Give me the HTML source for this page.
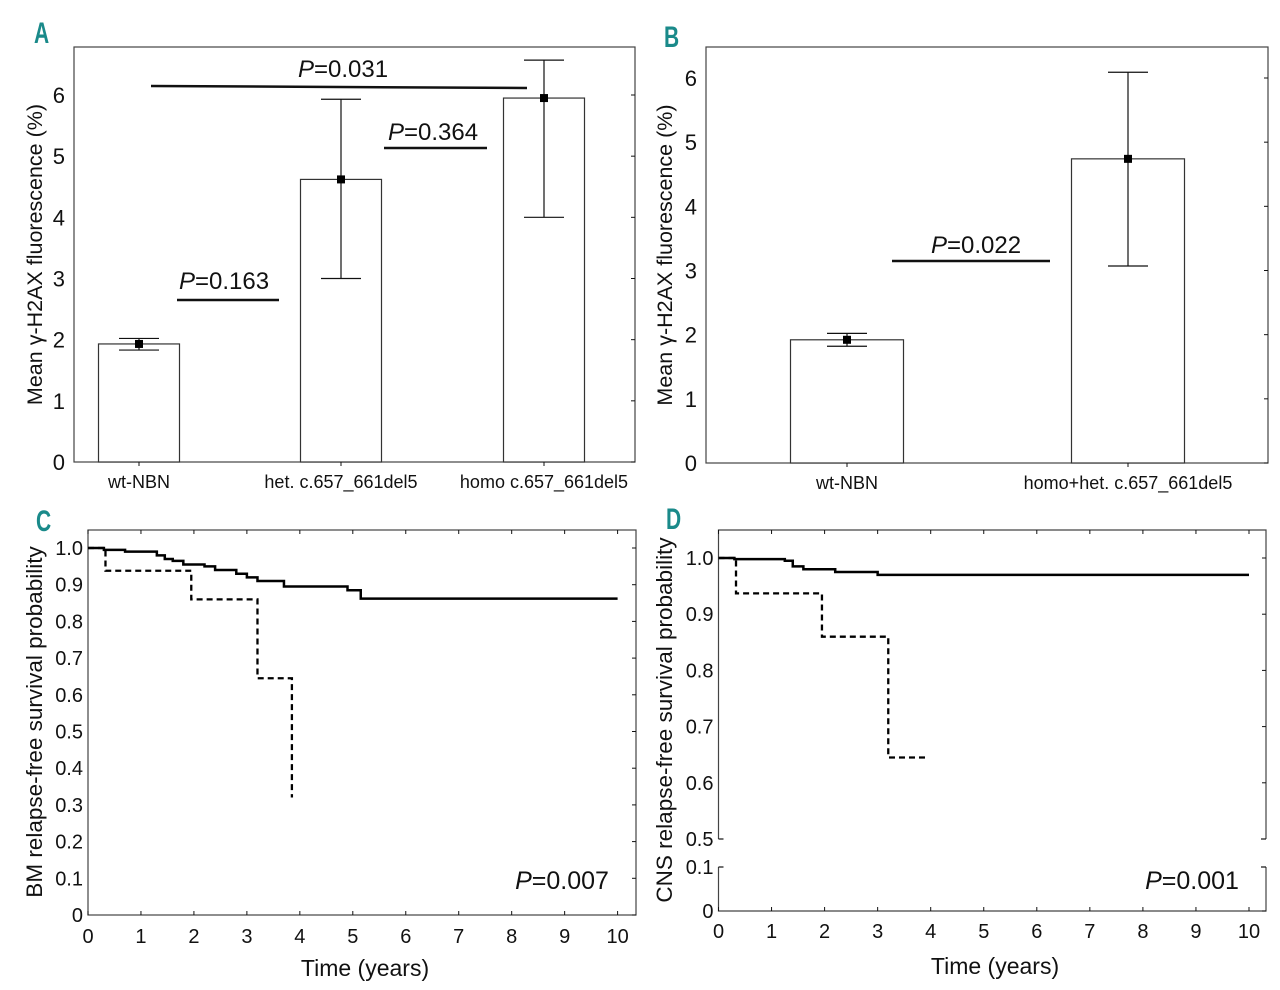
<!DOCTYPE html>
<html><head><meta charset="utf-8"><style>
html,body{margin:0;padding:0;background:#fff}
svg{display:block}
text{font-family:"Liberation Sans",sans-serif;fill:#111}
.lt{font-family:"Liberation Sans",sans-serif;font-weight:bold;fill:#1a8a8a;font-size:30px}
</style></head><body>
<svg id="fig" width="1280" height="990" viewBox="0 0 1280 990" xmlns="http://www.w3.org/2000/svg">
<text class="lt" x="34" y="43" transform="translate(34,43) scale(0.7,1) translate(-34,-43)">A</text>
<text class="lt" x="664" y="47" transform="translate(664,47) scale(0.7,1) translate(-664,-47)">B</text>
<text class="lt" x="36" y="531" transform="translate(36,531) scale(0.7,1) translate(-36,-531)">C</text>
<text class="lt" x="666" y="529" transform="translate(666,529) scale(0.7,1) translate(-666,-529)">D</text>
</svg>
<script>
// Panel A data
const catsA = ["wt-NBN", "het. c.657_661del5", "homo c.657_661del5"];
const meansA = [1.93, 4.62, 5.95];
const lowA = [1.83, 3.0, 4.0];
const highA = [2.02, 5.93, 6.57];
// Panel B data
const catsB = ["wt-NBN", "homo+het. c.657_661del5"];
const meansB = [1.92, 4.74];
const lowB = [1.82, 3.07];
const highB = [2.02, 6.09];
const ticksBar = [0, 1, 2, 3, 4, 5, 6];
// Panel C data (Kaplan-Meier step points: time, survival)
const timesCsolid = [0, 0.3, 0.7, 1.3, 1.45, 1.6, 1.8, 2.2, 2.4, 2.8, 3.0, 3.2, 3.7, 4.9, 5.15, 10];
const survCsolid = [1.0, 0.995, 0.99, 0.98, 0.97, 0.965, 0.955, 0.95, 0.94, 0.93, 0.92, 0.91, 0.895, 0.885, 0.862, 0.862];
const timesCdash = [0, 0.33, 1.95, 3.2, 3.85];
const survCdash = [1.0, 0.938, 0.86, 0.645, 0.32];
// Panel D data
const timesDsolid = [0, 0.3, 1.25, 1.4, 1.6, 2.2, 3.0, 10];
const survDsolid = [1.0, 0.998, 0.995, 0.985, 0.98, 0.975, 0.97, 0.97];
const timesDdash = [0, 0.33, 1.95, 3.2, 3.9];
const survDdash = [1.0, 0.937, 0.86, 0.645, 0.645];
const ticksX = [0,1,2,3,4,5,6,7,8,9,10];
const ticksC = [0,0.1,0.2,0.3,0.4,0.5,0.6,0.7,0.8,0.9,1.0];
const ticksDup = [0.5,0.6,0.7,0.8,0.9,1.0];
const ticksDlow = [0,0.1];

const NS = "http://www.w3.org/2000/svg";
const svg = document.getElementById('fig');
function el(tag, attrs, parent) {
  const e = document.createElementNS(NS, tag);
  for (const k in attrs) e.setAttribute(k, attrs[k]);
  (parent || svg).appendChild(e);
  return e;
}
function txt(x, y, s, size, anchor, name, extra) {
  const t = el('text', Object.assign({x: x, y: y, 'font-size': size, 'text-anchor': anchor || 'middle'}, extra || {}));
  t.textContent = s;
  
  
  return t;
}
function ptext(x, y, val, size, name) {
  const t = el('text', {x: x, y: y, 'font-size': size, 'text-anchor': 'middle'});
  const a = el('tspan', {'font-style': 'italic'}, t); a.textContent = 'P';
  const b = el('tspan', {}, t); b.textContent = '=' + val;
  
  
}
function line(x1, y1, x2, y2, w, name, extra) {
  const l = el('line', Object.assign({x1: x1, y1: y1, x2: x2, y2: y2, stroke: '#111', 'stroke-width': w}, extra || {}));
  
  
  return l;
}

function barPanel(o) {
  const {L, R, T, B, y6, cats, means, lo, hi, centers, bw, ylx, id} = o;
  const ys = v => B - v * (B - y6) / 6;
  const box = el('rect', {x: L, y: T, width: R - L, height: B - T, fill: 'none', stroke: '#444', 'stroke-width': 1.2});
  
  
  ticksBar.forEach(v => {
    line(R - 4, ys(v), R, ys(v), 1, id + '-right-tick');
    txt(L - 9, ys(v) + 8, String(v), 22, 'end', id + '-y-tick-label');
  });
  cats.forEach((c, i) => {
    const cx = centers[i];
    const r = el('rect', {x: cx - bw / 2, y: ys(means[i]), width: bw, height: B - ys(means[i]), fill: '#fff', stroke: '#333', 'stroke-width': 1.2});
    
    
    line(cx, ys(lo[i]), cx, ys(hi[i]), 1.2, id + '-error-bar');
    line(cx - 20, ys(lo[i]), cx + 20, ys(lo[i]), 1.2, id + '-error-cap-low');
    line(cx - 20, ys(hi[i]), cx + 20, ys(hi[i]), 1.2, id + '-error-cap-high');
    const m = el('rect', {x: cx - 4, y: ys(means[i]) - 4, width: 8, height: 8, fill: '#000'});
    
    
    line(cx, B, cx, B + 4, 1, id + '-x-tick');
    txt(cx, B + 26, c, 18, 'middle', id + '-category-label');
  });
  txt(ylx, (T + B) / 2, 'Mean γ-H2AX fluorescence (%)', 21.5, 'middle', id + '-y-axis-title', {transform: `rotate(-90 ${ylx} ${(T + B) / 2})`});
  return ys;
}

barPanel({L: 74, R: 635, T: 47, B: 462, y6: 95, cats: catsA, means: meansA, lo: lowA, hi: highA, centers: [139, 341, 544], bw: 81, ylx: 42, id: 'panel-a'});
line(177, 300, 279, 300, 2.5, 'p-line-wt-het');
ptext(224, 289, '0.163', 24, 'p-value-wt-het');
line(384, 148, 487, 148, 2.5, 'p-line-het-homo');
ptext(433, 140, '0.364', 24, 'p-value-het-homo');
line(151, 86, 527, 88, 2.5, 'p-line-wt-homo');
ptext(343, 77, '0.031', 24, 'p-value-wt-homo');

barPanel({L: 706, R: 1268, T: 47, B: 463, y6: 78, cats: catsB, means: meansB, lo: lowB, hi: highB, centers: [847, 1128], bw: 113, ylx: 672, id: 'panel-b'});
line(892, 261, 1050, 261, 2.5, 'p-line-b');
ptext(976, 253, '0.022', 24, 'p-value-b');

function stepPath(ts, ss, xs, ys) {
  let d = `M${xs(ts[0])},${ys(ss[0])}`;
  for (let i = 1; i < ts.length; i++) {
    d += ` H${xs(ts[i])} V${ys(ss[i])}`;
  }
  return d;
}

// Panel C
(function () {
  const L = 88, R = 636, T = 530, B = 915;
  const xs = t => L + t * (617.6 - L) / 10;
  const ys = v => B - v * (B - 548) / 1.0;
  const box = el('rect', {x: L, y: T, width: R - L, height: B - T, fill: 'none', stroke: '#444', 'stroke-width': 1.2});
  
  
  ticksX.forEach(t => {
    line(xs(t), B, xs(t), B - 4, 1, 'panel-c-x-tick');
    line(xs(t), T, xs(t), T + 4, 1, 'panel-c-top-tick');
    txt(xs(t), B + 28, String(t), 20, 'middle', 'panel-c-x-tick-label');
  });
  ticksC.forEach(v => {
    line(R - 4, ys(v), R, ys(v), 1, 'panel-c-right-tick');
    txt(L - 5, ys(v) + 7, v === 0 ? '0' : v.toFixed(1), 20, 'end', 'panel-c-y-tick-label');
  });
  const s = el('path', {d: stepPath(timesCsolid, survCsolid, xs, ys), fill: 'none', stroke: '#000', 'stroke-width': 2.5});
  
  
  const dsh = el('path', {d: stepPath(timesCdash, survCdash, xs, ys), fill: 'none', stroke: '#000', 'stroke-width': 2.3, 'stroke-dasharray': '6,4'});
  
  
  ptext(562, 889, '0.007', 25, 'panel-c-p-value');
  txt(365, 976, 'Time (years)', 23, 'middle', 'panel-c-x-axis-title');
  txt(42, 722, 'BM relapse-free survival probability', 22.5, 'middle', 'panel-c-y-axis-title', {transform: 'rotate(-90 42 722)'});
})();

// Panel D (broken axis)
(function () {
  const L = 718.5, R = 1266, T = 530, B = 911;
  const xs = t => L + t * (1249 - L) / 10;
  const yU = v => 839 - (v - 0.5) * (839 - 558) / 0.5;
  const yL = v => B - v * (B - 867) / 0.1;
  const ys = v => v >= 0.5 ? yU(v) : yL(v);
  const fr = el('path', {d: `M${L},839 V${T} H${R} V839 M${L},867 V${B} H${R} V867`, fill: 'none', stroke: '#444', 'stroke-width': 1.2});
  
  
  line(L, 839, L + 5, 839, 1.2, 'panel-d-break-mark');
  line(L, 867, L + 5, 867, 1.2, 'panel-d-break-mark');
  line(R - 5, 839, R, 839, 1.2, 'panel-d-break-mark');
  line(R - 5, 867, R, 867, 1.2, 'panel-d-break-mark');
  ticksX.forEach(t => {
    line(xs(t), B, xs(t), B - 4, 1, 'panel-d-x-tick');
    line(xs(t), T, xs(t), T + 4, 1, 'panel-d-top-tick');
    txt(xs(t), B + 27, String(t), 20, 'middle', 'panel-d-x-tick-label');
  });
  ticksDup.concat(ticksDlow).forEach(v => {
    line(R - 4, ys(v), R, ys(v), 1, 'panel-d-right-tick');
    txt(L - 5, ys(v) + 7, v === 0 ? '0' : v.toFixed(1), 20, 'end', 'panel-d-y-tick-label');
  });
  const s = el('path', {d: stepPath(timesDsolid, survDsolid, xs, ys), fill: 'none', stroke: '#000', 'stroke-width': 2.5});
  
  
  const dsh = el('path', {d: stepPath(timesDdash, survDdash, xs, ys), fill: 'none', stroke: '#000', 'stroke-width': 2.3, 'stroke-dasharray': '6,4'});
  
  
  ptext(1192, 889, '0.001', 25, 'panel-d-p-value');
  txt(995, 974, 'Time (years)', 23, 'middle', 'panel-d-x-axis-title');
  txt(672, 720, 'CNS relapse-free survival probability', 22.5, 'middle', 'panel-d-y-axis-title', {transform: 'rotate(-90 672 720)'});
})();
</script>
</body></html>
